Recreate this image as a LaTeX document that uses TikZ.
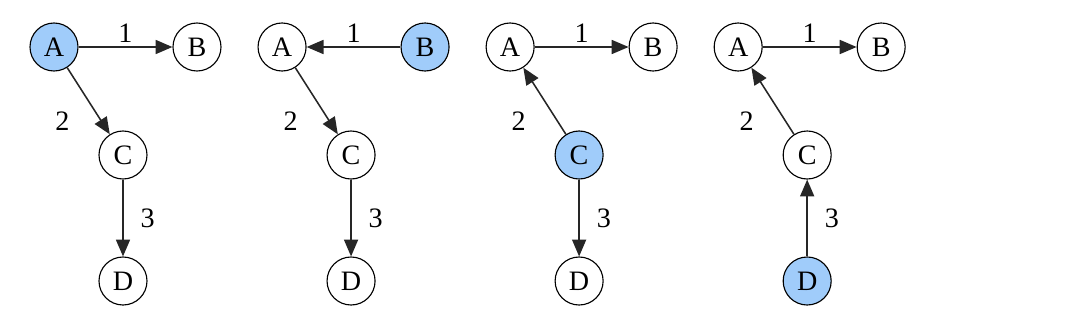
\documentclass[tikz,border=0pt]{standalone}
\usepackage{fontspec}
\setmainfont{Liberation Serif}
\usetikzlibrary{arrows.meta}
\definecolor{visited}{RGB}{160,204,250}
\begin{document}
\begin{tikzpicture}[
  x=0.025cm, y=-0.025cm,
  vertex/.style={draw, circle, line width=0.8pt, minimum size=1.2cm, inner sep=0pt, font=\fontsize{20}{22}\selectfont},
  current/.style={vertex, fill=visited},
  lbl/.style={font=\fontsize{20}{22}\selectfont, inner sep=2pt},
  arrow/.style={-{Triangle[length=12pt, width=10pt]}, line width=1.1pt, draw=black!85}
]
\useasboundingbox (0,0) rectangle (1080,323);
% panel 1: start at A
\node[current] (a1) at (54,47) {A};
\node[vertex] (b1) at (197,47) {B};
\node[vertex] (c1) at (123,155) {C};
\node[vertex] (d1) at (123,281) {D};
\draw[arrow] (a1) -- node[lbl, above=1pt] {1} (b1);
\draw[arrow] (a1) -- node[lbl, pos=.8, left=20pt] {2} (c1);
\draw[arrow] (c1) -- node[lbl, right=10pt] {3} (d1);
% panel 2: start at B
\begin{scope}[xshift=5.7cm]
\node[vertex] (a2) at (54,47) {A};
\node[current] (b2) at (197,47) {B};
\node[vertex] (c2) at (123,155) {C};
\node[vertex] (d2) at (123,281) {D};
\draw[arrow] (b2) -- node[lbl, above=1pt] {1} (a2);
\draw[arrow] (a2) -- node[lbl, pos=.8, left=20pt] {2} (c2);
\draw[arrow] (c2) -- node[lbl, right=10pt] {3} (d2);
\end{scope}
% panel 3: start at C
\begin{scope}[xshift=11.4cm]
\node[vertex] (a3) at (54,47) {A};
\node[vertex] (b3) at (197,47) {B};
\node[current] (c3) at (123,155) {C};
\node[vertex] (d3) at (123,281) {D};
\draw[arrow] (a3) -- node[lbl, above=1pt] {1} (b3);
\draw[arrow] (c3) -- node[lbl, pos=.2, left=20pt] {2} (a3);
\draw[arrow] (c3) -- node[lbl, right=10pt] {3} (d3);
\end{scope}
% panel 4: start at D
\begin{scope}[xshift=17.1cm]
\node[vertex] (a4) at (54,47) {A};
\node[vertex] (b4) at (197,47) {B};
\node[vertex] (c4) at (123,155) {C};
\node[current] (d4) at (123,281) {D};
\draw[arrow] (a4) -- node[lbl, above=1pt] {1} (b4);
\draw[arrow] (c4) -- node[lbl, pos=.2, left=20pt] {2} (a4);
\draw[arrow] (d4) -- node[lbl, right=10pt] {3} (c4);
\end{scope}
\end{tikzpicture}
\end{document}
